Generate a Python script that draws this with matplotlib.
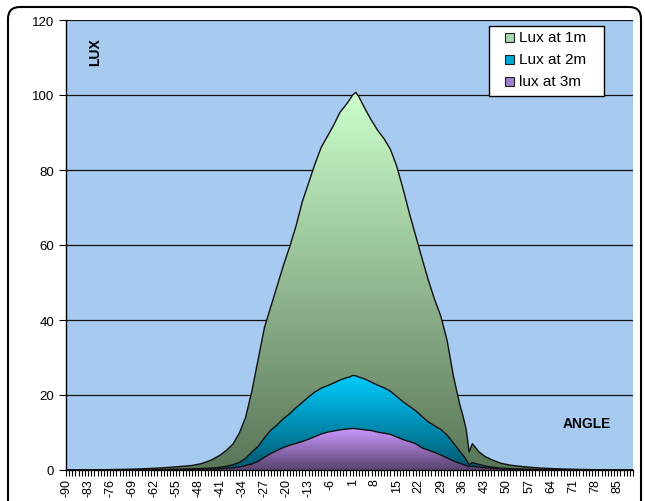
import numpy as np
import matplotlib.pyplot as plt
from matplotlib.colors import LinearSegmentedColormap
from matplotlib.patches import FancyBboxPatch, Rectangle
from matplotlib.transforms import IdentityTransform

angle = [-90, -80, -70, -65, -60, -55, -50, -47, -44, -41, -39, -37, -35, -33, -31,
         -29, -27, -25, -23, -21, -19, -17, -15, -13, -11, -9, -7, -5, -3, -1, 0,
         1, 2, 3, 5, 7, 9, 11, 13, 15, 17, 19, 21, 23, 25, 27, 29, 31, 33, 35, 36,
         37, 38, 39, 40, 41, 43, 45, 48, 51, 55, 60, 65, 70, 80, 90]

lux_1m = [0, 0.05, 0.2, 0.35, 0.55, 0.85, 1.2, 1.7, 2.6, 4.0, 5.3, 6.9, 9.8, 14, 21,
          29.5, 38, 43.5, 49, 54.5, 59.5, 65, 71.5, 76.5, 81.5, 86, 89, 92, 95.4, 97.5, 98.7,
          100, 100.7, 99.5, 96.2, 93.2, 90.5, 88.3, 85.5, 81, 75, 68.5, 62.5, 56.5, 50.7, 45.5, 41, 34.5, 25, 17.5, 14.5,
          11, 4.8, 7.0, 6.0, 4.9, 3.6, 2.8, 1.8, 1.3, 0.9, 0.55, 0.35, 0.2, 0.05, 0]

lux_2m = [0, 0.01, 0.05, 0.08, 0.13, 0.2, 0.3, 0.4, 0.5, 0.75, 1.0, 1.4, 2.0, 3.1, 4.8,
          6.3, 8.6, 10.6, 12.0, 13.7, 15.0, 16.6, 18.0, 19.5, 20.8, 21.8, 22.5, 23.2, 24.0, 24.6, 24.8,
          25.2, 25.1, 24.8, 24.2, 23.4, 22.6, 21.9, 21.0, 19.6, 18.2, 17.0, 15.8, 14.3, 12.8, 11.8, 10.8, 9.3, 7.2, 5.0, 4.0,
          2.8, 1.4, 2.0, 1.7, 1.5, 1.1, 0.8, 0.5, 0.35, 0.22, 0.13, 0.08, 0.05, 0.01, 0]

lux_3m = [0, 0.005, 0.02, 0.04, 0.06, 0.09, 0.13, 0.18, 0.24, 0.33, 0.45, 0.6, 0.8, 1.2, 1.6,
          2.3, 3.4, 4.4, 5.2, 6.0, 6.6, 7.1, 7.6, 8.2, 8.9, 9.6, 10.1, 10.4, 10.7, 10.9, 11.0,
          11.1, 11.0, 10.9, 10.7, 10.5, 10.1, 9.8, 9.5, 8.8, 8.1, 7.6, 7.0, 5.9, 5.3, 4.7, 4.0, 3.2, 2.4, 1.8, 1.5,
          1.2, 0.9, 1.0, 0.9, 0.8, 0.6, 0.45, 0.3, 0.2, 0.12, 0.07, 0.04, 0.02, 0.005, 0]

series_names = ['Lux at 1m', 'Lux at 2m', 'lux at 3m']

plt.rcParams['font.family'] = ['Liberation Sans', 'DejaVu Sans']
plt.rcParams['axes.unicode_minus'] = False

W, H = 645, 502
fig = plt.figure(figsize=(W / 100, H / 100), dpi=100)
ax = fig.add_axes([66 / W, 31 / H, 567 / W, 450 / H])
ax.set_facecolor('#A6CAF0')


def px(x, y):
    # pixel position (from top left) -> figure fraction
    return x / W, 1 - y / H


def grad_area(x, y, top, bottom, z):
    poly = ax.fill_between(x, y, 0, facecolor='none', edgecolor='none', zorder=z)
    cmap = LinearSegmentedColormap.from_list('g', [bottom, top])
    img = ax.imshow(np.linspace(0, 1, 256).reshape(-1, 1), cmap=cmap, aspect='auto',
                    extent=[-90, 90, 0, max(y)], origin='lower', zorder=z)
    img.set_clip_path(poly.get_paths()[0], ax.transData)
    ax.plot(x, y, color='#111111', lw=1, zorder=z + 0.1)


grad_area(angle, lux_1m, '#CCFFCC', '#5A7558', 2)
grad_area(angle, lux_2m, '#00CCFF', '#00566E', 3)
grad_area(angle, lux_3m, '#CC99FF', '#584270', 4)

ax.set_xlim(-90, 90)
ax.set_ylim(0, 120)
ax.set_yticks(range(0, 121, 20))
ax.set_xticks(range(-90, 91, 7))
ax.set_xticks(range(-90, 91), minor=True)
ax.tick_params(axis='x', which='both', direction='out', length=4, width=0.8,
               labelrotation=90, labelsize=9, pad=2)
ax.tick_params(axis='y', direction='out', length=5, width=0.8, labelsize=9.5)
ax.grid(axis='y', color='#111111', lw=0.9)
ax.set_axisbelow(True)
for s in ['top', 'right']:
    ax.spines[s].set_visible(False)
ax.spines['left'].set_linewidth(1)
ax.spines['bottom'].set_linewidth(1)
ax.spines['bottom'].set_zorder(6)

fig.text(*px(95, 52), 'LUX', rotation=90, fontsize=10, fontweight='bold',
         ha='center', va='center')
fig.text(*px(587, 424), 'ANGLE', fontsize=10, fontweight='bold',
         ha='center', va='center')

# legend box drawn by hand to match the spreadsheet layout
x0, y0 = px(489, 97)
x1, y1 = px(604, 27)
fig.add_artist(Rectangle((x0, y0), x1 - x0, y1 - y0, transform=fig.transFigure,
                         facecolor='white', edgecolor='black', lw=1, zorder=10))
swatch = ['#A8D8A8', '#00A8D8', '#A27ED2']
for i, (name, c) in enumerate(zip(series_names, swatch)):
    yc = 38 + 22 * i
    sx, sy = px(505, yc + 4.5)
    fig.add_artist(Rectangle((sx, sy), 9 / W, 9 / H, transform=fig.transFigure,
                             facecolor=c, edgecolor='#222222', lw=0.8, zorder=11))
    fig.text(*px(519, yc), name, fontsize=11, ha='left', va='center', zorder=12)

border = FancyBboxPatch((8, -30), 633, 524, boxstyle='round,pad=0,rounding_size=12',
                        transform=IdentityTransform(), fill=False, edgecolor='black',
                        lw=1.5, clip_on=False)
fig.add_artist(border)

fig.savefig('out.png', dpi=100)
